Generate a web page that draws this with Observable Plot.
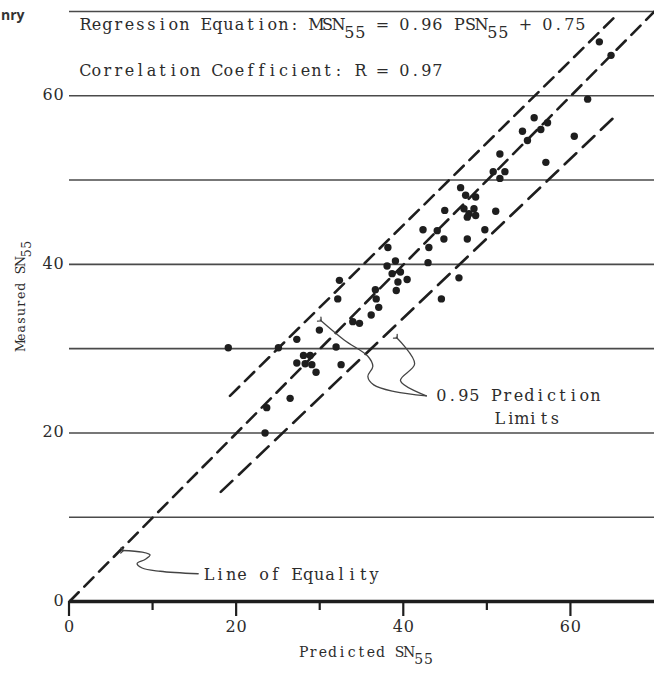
<!DOCTYPE html>
<html>
<head>
<meta charset="utf-8">
<script src="https://cdn.jsdelivr.net/npm/d3@7"></script>
<script src="https://cdn.jsdelivr.net/npm/@observablehq/plot@0.6"></script>
<style>
  html, body { margin: 0; padding: 0; background: #fff; }
  svg { display: block; }
</style>
</head>
<body>
<div id="chart"></div>
<script>
// Measured vs. predicted structural number (SN55) for the test sections
const predictedSN = [19.0, 23.4, 23.6, 25.0, 26.4, 27.2, 27.2, 28.0, 28.2, 28.8,
  29.0, 29.5, 29.9, 31.9, 32.5, 32.1, 32.3, 33.9, 34.7, 36.1,
  37.0, 36.7, 36.6, 38.1, 39.0, 38.0, 38.6, 39.6, 39.3, 40.4,
  39.1, 42.9, 43.0, 42.3, 44.0, 44.8, 44.9, 44.5, 46.6, 47.6,
  46.8, 47.4, 48.6, 47.2, 47.8, 48.4, 47.6, 48.6, 51.0, 49.7,
  50.7, 52.1, 51.5, 51.5, 57.0, 54.8, 54.2, 56.4, 57.2, 55.6,
  60.4, 62.0, 64.8, 63.4];
const measuredSN = [30.1, 20.0, 23.0, 30.1, 24.1, 31.1, 28.3, 29.2, 28.2, 29.2,
  28.1, 27.2, 32.2, 30.2, 28.1, 35.9, 38.1, 33.2, 33.0, 34.0,
  34.9, 35.9, 37.0, 42.0, 40.4, 39.8, 38.9, 39.1, 37.9, 38.2,
  36.9, 40.2, 42.0, 44.1, 44.0, 43.0, 46.4, 35.9, 38.4, 43.0,
  49.1, 48.2, 48.0, 46.6, 46.0, 46.6, 45.6, 45.8, 46.3, 44.1,
  51.0, 51.0, 50.2, 53.1, 52.1, 54.7, 55.8, 56.0, 56.8, 57.4,
  55.2, 59.6, 64.8, 66.4];

// Line of equality and the 0.95 prediction limits (end points)
const equalityX = [0, 70];
const equalityY = [0, 70];
const upperLimitX = [19.2, 65.4];
const upperLimitY = [24.4, 69.5];
const lowerLimitX = [18.1, 65.0];
const lowerLimitY = [13.0, 57.3];

// Axis ticks and grid
const xTicks = [0, 10, 20, 30, 40, 50, 60];
const xTickLabels = [0, 20, 40, 60];
const yGridLines = [10, 20, 30, 40, 50, 60, 70];
const yTickLabels = [0, 20, 40, 60];

// Hand-drawn leader curves (data units)
const equalityLeaderX = [6.3, 8.7, 9.64, 9.04, 8.09, 8.69, 10.84, 15.4];
const equalityLeaderY = [6.05, 5.85, 5.52, 4.98, 4.51, 3.97, 3.59, 3.29];
const upperLeaderX = [30.0, 32.9, 35.7, 36.3, 35.7, 36.4, 38.9, 42.7];
const upperLeaderY = [33.4, 31.0, 29.1, 27.9, 26.7, 25.7, 24.9, 24.4];
const lowerLeaderX = [39.1, 41.3, 39.6, 42.7];
const lowerLeaderY = [31.35, 28.2, 26.2, 24.4];

const points = predictedSN.map((x, i) => ({x, y: measuredSN[i]}));
const toRows = (xs, ys) => xs.map((x, i) => ({x, y: ys[i]}));

const ink = "#1e1e1e";
const typeInk = "#2c2c2c";
const typeface = '"DejaVu Serif", "Liberation Serif", serif';

// Typewriter-style line: every character sits in a fixed-width cell.
// parts = [[string, isSubscript], ...]
function typeLine(g, {px, py, cell, size, parts, anchor = "start", rotate = 0}) {
  const total = parts.reduce((n, [s]) => n + s.length, 0) * cell;
  const start = anchor === "end" ? px - total : anchor === "middle" ? px - total / 2 : px;
  const text = g.append("text")
    .attr("xml:space", "preserve")
    .style("white-space", "pre")
    .attr("font-family", typeface)
    .attr("font-size", size)
    .attr("fill", typeInk)
    .attr("text-anchor", "middle")
    .attr("dominant-baseline", "middle");
  if (rotate) text.attr("transform", `rotate(${rotate},${px},${py})`);
  let i = 0;
  for (const [s, sub] of parts) {
    const xs = [...s].map((c, k) => (start + (i + k + 0.5) * cell).toFixed(1));
    text.append("tspan")
      .attr("x", xs.join(" "))
      .attr("y", py + (sub ? size * 0.5 : 0))
      .text(s);
    i += s.length;
  }
}

function annotations(items) {
  return (index, scales) => {
    const g = d3.create("svg:g");
    for (const t of items) {
      typeLine(g, {...t, px: t.px ?? scales.x(t.x), py: t.py ?? scales.y(t.y)});
    }
    return g.node();
  };
}

// Bottom axis ticks and numeric labels on both axes
function axes(index, scales) {
  const g = d3.create("svg:g");
  const y0 = scales.y(0);
  for (const t of xTicks) {
    const major = t % 20 === 0;
    g.append("line")
      .attr("x1", scales.x(t)).attr("x2", scales.x(t))
      .attr("y1", y0).attr("y2", y0 + (major ? 15 : 9))
      .attr("stroke", ink).attr("stroke-width", 2.2);
  }
  for (const t of xTickLabels) {
    typeLine(g, {px: scales.x(t), py: y0 + 26, cell: 11, size: 16, anchor: "middle", parts: [[String(t), false]]});
  }
  for (const t of yTickLabels) {
    typeLine(g, {px: scales.x(0) - 5, py: scales.y(t), cell: 11, size: 16, anchor: "end", parts: [[String(t), false]]});
  }
  return g.node();
}

// Fragment of the page's running head, top-left
function runningHead() {
  const g = d3.create("svg:g");
  g.append("text")
    .attr("x", 1).attr("y", 20)
    .attr("text-anchor", "start")
    .attr("font-family", '"Open Sans", "Noto Sans", sans-serif')
    .attr("font-weight", 700).attr("font-size", 14)
    .attr("fill", "#333")
    .text("nry");
  return g.node();
}

const plot = Plot.plot({
  width: 654,
  height: 677,
  marginLeft: 69,
  marginRight: 0,
  marginTop: 11,
  marginBottom: 76,
  style: {background: "#fff", overflow: "visible"},
  x: {domain: [0, 70], axis: null},
  y: {domain: [0, 70], axis: null},
  marks: [
    Plot.ruleY(yGridLines, {stroke: "#4a4a4a", strokeWidth: 1.6}),
    Plot.ruleY([0], {stroke: ink, strokeWidth: 3.4}),
    Plot.line(toRows(equalityX, equalityY), {x: "x", y: "y", stroke: ink, strokeWidth: 2.6, strokeDasharray: "13,8"}),
    Plot.line(toRows(upperLimitX, upperLimitY), {x: "x", y: "y", stroke: ink, strokeWidth: 2.6, strokeDasharray: "13,8"}),
    Plot.line(toRows(lowerLimitX, lowerLimitY), {x: "x", y: "y", stroke: ink, strokeWidth: 2.6, strokeDasharray: "16,9"}),
    Plot.line(toRows(equalityLeaderX, equalityLeaderY), {x: "x", y: "y", stroke: "#444", strokeWidth: 1.3, curve: "catmull-rom", markerStart: "arrow"}),
    Plot.line(toRows(upperLeaderX, upperLeaderY), {x: "x", y: "y", stroke: "#444", strokeWidth: 1.3, curve: "catmull-rom", markerStart: "arrow"}),
    Plot.line(toRows(lowerLeaderX, lowerLeaderY), {x: "x", y: "y", stroke: "#444", strokeWidth: 1.3, curve: "catmull-rom", markerStart: "arrow"}),
    Plot.dot(points, {x: "x", y: "y", r: 3.7, fill: ink, stroke: "none"}),
    axes,
    runningHead,
    annotations([
      {x: 1.3, y: 68.3, cell: 11, size: 16, parts: [["Regression Equation: MSN", false], ["55", true], [" = 0.96 PSN", false], ["55", true], [" + 0.75", false]]},
      {x: 1.3, y: 62.9, cell: 11, size: 16, parts: [["Correlation Coefficient: R = 0.97", false]]},
      {x: 16.1, y: 3.1, cell: 11, size: 16, parts: [["Line of Equality", false]]},
      {x: 43.9, y: 24.3, cell: 11, size: 16, parts: [["0.95 Prediction", false]]},
      {x: 50.9, y: 21.6, cell: 11, size: 16, parts: [["Limits", false]]},
      {x: 27.5, py: 653, cell: 9.6, size: 14, parts: [["Predicted SN", false], ["55", true]]},
      {px: 21, y: 29.8, cell: 8.4, size: 12.5, rotate: -90, parts: [["Measured SN", false], ["55", true]]}
    ])
  ]
});

document.getElementById("chart").appendChild(plot);
</script>
</body>
</html>
